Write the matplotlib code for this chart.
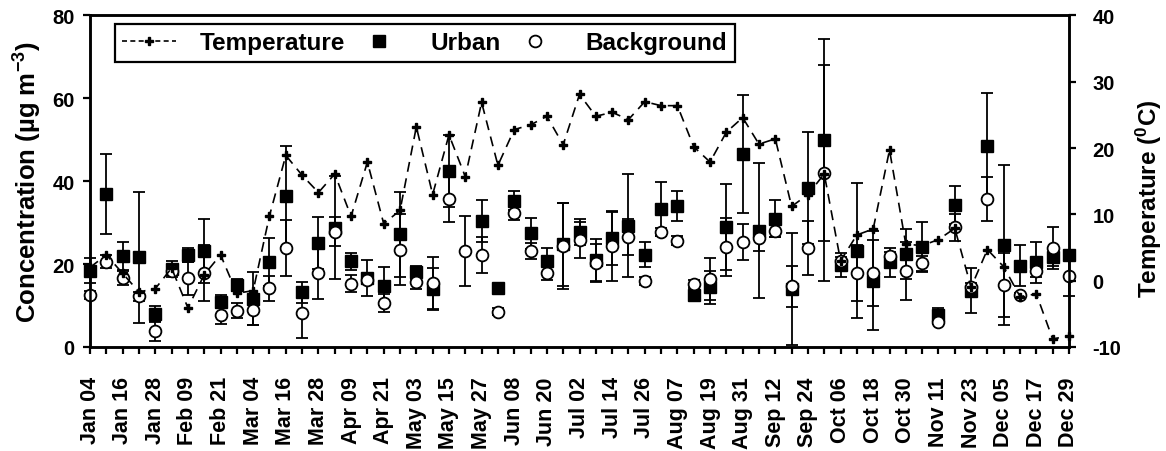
import numpy as np
import matplotlib
matplotlib.use("Agg")
import matplotlib.pyplot as plt
from matplotlib.lines import Line2D

plt.rcParams['font.family'] = ['Liberation Sans', 'DejaVu Sans']
plt.rcParams['font.weight'] = 'bold'
plt.rcParams['axes.unicode_minus'] = False
plt.rcParams['mathtext.fontset'] = 'custom'
plt.rcParams['mathtext.rm'] = 'Liberation Sans:bold'
plt.rcParams['mathtext.it'] = 'Liberation Sans:bold'
plt.rcParams['mathtext.bf'] = 'Liberation Sans:bold'

nan = np.nan

# sampling every 6 days, labels on every second sample
date_labels = ['Jan 04', 'Jan 16', 'Jan 28', 'Feb 09', 'Feb 21', 'Mar 04', 'Mar 16',
               'Mar 28', 'Apr 09', 'Apr 21', 'May 03', 'May 15', 'May 27', 'Jun 08',
               'Jun 20', 'Jul 02', 'Jul 14', 'Jul 26', 'Aug 07', 'Aug 19', 'Aug 31',
               'Sep 12', 'Sep 24', 'Oct 06', 'Oct 18', 'Oct 30', 'Nov 11', 'Nov 23',
               'Dec 05', 'Dec 17', 'Dec 29']

temperature = [2.0, 3.9, 1.1, -1.7, -1.2, 1.9, -4.1, 0.9, 3.9, -1.9,
               -1.5, 9.8, 18.9, 15.9, 13.3, 16.1, 9.7, 17.9, 8.6, 10.6,
               23.2, 13.0, 22.0, 15.7, 26.9, 17.4, 22.8, 23.5, 24.8, 20.5,
               28.1, 24.8, 25.4, 24.3, 27.0, 26.4, 26.4, 20.2, 17.9, 22.4,
               24.6, 20.6, 21.4, 11.2, 13.0, 16.1, 3.0, 6.9, 7.8, 19.7,
               5.5, 5.3, 6.2, 7.9, -1.0, 4.7, 2.1, -2.4, -2.0, -8.8, -8.3]

urban = [18.4, 36.9, 22.0, 21.6, 8.0, 18.8, 22.2, 23.2, 10.9, 15.0,
         11.7, 20.4, 36.4, 13.2, 25.1, 28.8, 20.7, 16.6, 14.8, 27.2,
         18.0, 14.0, 42.5, nan, 30.4, 14.3, 35.3, 27.4, 20.7, 24.8,
         27.7, 21.0, 26.2, 29.3, 22.3, 33.3, 34.0, 12.5, 14.4, 28.9,
         46.6, 28.1, 31.0, 14.0, 38.3, 50.0, 19.8, 23.2, 16.0, 20.4,
         22.4, 24.1, 7.7, 34.3, 13.6, 48.6, 24.7, 19.6, 20.4, 21.6, 22.2]

urban_err = [3.0, 9.7, 3.4, 15.9, 1.8, 2.0, 1.8, 7.7, 1.6, 1.5,
             6.4, 5.8, 12.2, 2.6, 6.2, 12.5, 2.0, 4.3, 4.6, 10.3,
             1.5, 5.0, 8.6, nan, 5.0, 1.0, 2.3, 3.7, 3.1, 10.0,
             3.2, 5.0, 6.4, 12.4, 3.1, 6.4, 3.6, 1.0, 4.0, 10.4,
             14.3, 16.3, 4.5, 13.6, 13.5, 24.3, 3.0, 16.3, 12.0, 3.6,
             6.0, 6.0, 1.6, 4.6, 5.5, 12.6, 19.3, 5.0, 5.0, 2.0, 1.0]

background = [12.6, 20.6, 16.7, 12.2, 3.8, 18.4, 16.6, 17.9, 7.7, 8.7,
              8.9, 14.2, 23.9, 8.2, 17.9, 27.8, 15.3, 16.2, 10.6, 23.5,
              15.6, 15.5, 35.7, 23.2, 22.2, 8.5, 32.3, 23.2, 17.9, 24.3,
              25.8, 20.3, 24.4, 26.6, 16.0, 27.8, 25.7, 15.2, 16.4, 24.2,
              25.3, 26.2, 28.1, 14.6, 23.9, 42.0, 20.8, 17.9, 17.9, 21.9,
              18.4, 20.2, 6.0, 28.9, 14.4, 35.7, 15.0, 12.5, 18.4, 23.9, 17.1]

background_err = [1.0, 1.5, 1.7, 1.0, 2.3, 1.0, 4.0, 6.7, 2.2, 1.8,
                  3.5, 3.0, 6.8, 6.1, 6.3, 3.5, 2.1, 1.0, 2.2, 8.5,
                  1.5, 6.3, 5.5, 8.5, 4.3, 0.8, 1.7, 2.0, 1.7, 10.4,
                  4.3, 4.5, 8.4, 4.3, 1.0, 1.0, 1.0, 1.0, 5.1, 7.0,
                  4.3, 3.1, 1.5, 5.0, 6.5, 26.0, 1.0, 6.7, 8.0, 1.0,
                  7.0, 1.8, 0.5, 3.2, 1.0, 5.4, 7.8, 0.5, 1.5, 5.1, 4.7]

x = np.arange(len(temperature))

fig = plt.figure(figsize=(11.66, 4.52), dpi=100)
ax = fig.add_axes([0.0772, 0.2301, 0.8396, 0.7334])
ax2 = ax.twinx()


def unclip(container):
    for child in container.get_children():
        child.set_clip_on(False)


eb_u = ax.errorbar(x, urban, yerr=urban_err, fmt='s', color='black', ms=9,
                   ecolor='black', elinewidth=1.3, capsize=4.5, capthick=1.3, zorder=3)
eb_b = ax.errorbar(x, background, yerr=background_err, fmt='o', mfc='white', mec='black',
                   mew=1.3, ms=8.5, ecolor='black', elinewidth=1.3, capsize=4.5,
                   capthick=1.3, zorder=4)
unclip(eb_u)
unclip(eb_b)

ax2.plot(x, temperature, color='black', lw=1.2, ls=(0, (6, 4)), marker='P', ms=6,
         clip_on=False, zorder=5)

ax.set_xlim(0, 60)
ax.set_ylim(0, 80)
ax2.set_ylim(-10, 40)

ax.set_xticks(x[::2])
ax.set_xticklabels(date_labels, rotation=90, fontsize=15.5, fontweight='bold')
ax.set_xticks(x[1::2], minor=True)
ax.set_yticks([0, 20, 40, 60, 80])
ax2.set_yticks([-10, 0, 10, 20, 30, 40])

ax.tick_params(axis='both', which='both', direction='out', width=1.6, length=5,
               top=False, right=False)
ax.tick_params(axis='x', which='major', pad=16)
ax.tick_params(axis='y', labelsize=14.5, pad=6)
ax2.tick_params(axis='y', direction='out', width=1.6, length=5, labelsize=14.5, pad=12)
for lab in ax.get_yticklabels() + ax2.get_yticklabels():
    lab.set_fontweight('bold')

for a in (ax, ax2):
    for s in a.spines.values():
        s.set_linewidth(1.8)

ax.set_ylabel('Concentration (\u00b5g m$^{-3}$)', fontsize=18.5, fontweight='bold', labelpad=6)
ax2.set_ylabel('Temperature ($^{0}$C)', fontsize=17.5, fontweight='bold')
ax2.yaxis.set_label_coords(1.066, 0.45)

handles = [
    Line2D([], [], color='black', lw=1.2, ls=(0, (3, 2)), marker='P', ms=6),
    Line2D([], [], ls='none', marker='s', color='black', ms=9),
    Line2D([], [], ls='none', marker='o', mfc='white', mec='black', mew=1.3, ms=8.5),
]
leg = ax2.legend(handles, ['Temperature', 'Urban', 'Background'], ncol=3,
                 loc='upper left', bbox_to_anchor=(0.0255, 0.974), borderaxespad=0,
                 prop={'size': 17.5, 'weight': 'bold'}, handlelength=2.2,
                 handletextpad=1.0, columnspacing=0.3, borderpad=0.3,
                 fancybox=False, framealpha=1, edgecolor='black')
leg.get_frame().set_linewidth(1.6)

fig.savefig('out.png', dpi=100)
